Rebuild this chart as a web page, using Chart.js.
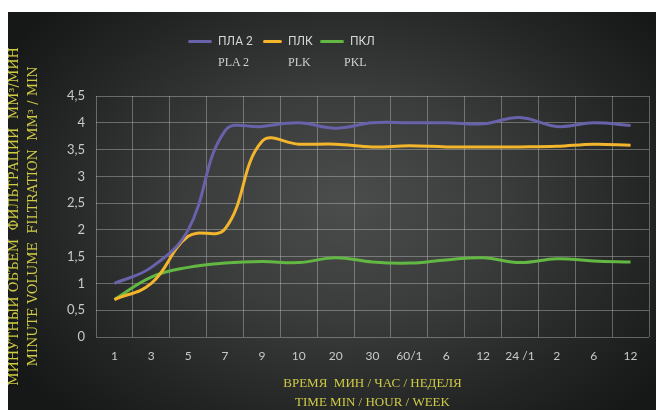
<!DOCTYPE html>
<html>
<head>
<meta charset="utf-8">
<script src="https://cdn.jsdelivr.net/npm/chart.js@4.4.1/dist/chart.umd.min.js"></script>
<style>
  html, body { margin: 0; padding: 0; background: #fff; }
  #wrap {
    position: absolute; left: 8px; top: 12px; width: 648px; height: 398px;
    background: radial-gradient(ellipse 62% 72% at 52% 48%, #4b4c4c 0%, #3a3b3b 40%, #242626 75%, #161717 100%);
    overflow: hidden;
  }
  #chart { position: absolute; left: 0; top: 0; }
  .lg { position: absolute; font-size: 12px; line-height: 14px; white-space: nowrap; }
  .lg.ru { font-family: Roboto, sans-serif; color: #d6d6d6; }
  .lg.en { font-family: "Liberation Serif", serif; color: #d0d0d0; }
  .sw { position: absolute; height: 3px; border-radius: 2px; }
</style>
</head>
<body>
<div id="wrap">
  <canvas id="chart" width="648" height="398"></canvas>
  <div id="legend"></div>
</div>
<script>
// time points (min / hour / week)
var labels = ['1', '3', '5', '7', '9', '10', '20', '30', '60/1', '6', '12', '24 /1', '2', '6', '12'];

// minute filtration volume, mm3/min
var pla2 = [1.0, 1.3, 2.0, 3.85, 3.93, 4.0, 3.9, 4.0, 4.0, 4.0, 3.98, 4.1, 3.93, 4.0, 3.95];
var plk  = [0.7, 1.0, 1.88, 2.02, 3.65, 3.6, 3.6, 3.55, 3.57, 3.55, 3.55, 3.55, 3.56, 3.6, 3.58];
var pkl  = [0.7, 1.12, 1.3, 1.38, 1.41, 1.39, 1.48, 1.4, 1.38, 1.44, 1.48, 1.39, 1.46, 1.42, 1.4];

var namesRu = ['ПЛА 2', 'ПЛК', 'ПКЛ'];
var namesEn = ['PLA 2', 'PLK', 'PKL'];
var colors = ['#6762aa', '#f2b52c', '#62b842'];

var yTitle = ['МИНУТНЫЙ ОБЪЁМ  ФИЛЬТРАЦИИ  ММ³/МИН', 'MINUTE VOLUME  FILTRATION  MM³ / MIN'];
var xTitle = ['ВРЕМЯ  МИН / ЧАС / НЕДЕЛЯ', 'TIME MIN / HOUR / WEEK'];

var titleColor = '#cfcb45';
var tickColor = '#c9c9c9';
var gridColor = 'rgba(210, 210, 210, 0.38)';

// legend, two rows: russian name and latin name under it
var legendPos = [
    { sw: 180, swW: 24, tx: 210 },
    { sw: 255, swW: 19, tx: 280 },
    { sw: 312, swW: 24, tx: 342 }
];
var legend = document.getElementById('legend');
namesRu.forEach(function (n, i) {
    var p = legendPos[i];
    legend.insertAdjacentHTML('beforeend',
        '<div class="sw" style="left:' + p.sw + 'px;top:28px;width:' + p.swW + 'px;background:' + colors[i] + '"></div>' +
        '<div class="lg ru" style="left:' + p.tx + 'px;top:22px">' + n + '</div>' +
        '<div class="lg en" style="left:' + (p.tx + (i === 2 ? -6 : 0)) + 'px;top:43px">' + namesEn[i] + '</div>');
});

var ctx = document.getElementById('chart').getContext('2d');
var chart = new Chart(ctx, {
    type: 'line',
    data: {
        labels: labels,
        datasets: [
            { label: namesRu[0], data: pla2, borderColor: colors[0] },
            { label: namesRu[1], data: plk, borderColor: colors[1] },
            { label: namesRu[2], data: pkl, borderColor: colors[2] }
        ]
    },
    options: {
        responsive: false,
        animation: false,
        devicePixelRatio: 1,
        layout: { padding: { top: 84, right: 7 } },
        elements: {
            point: { radius: 0 },
            line: { tension: 0.4, borderWidth: 3, fill: false }
        },
        plugins: {
            legend: { display: false },
            tooltip: { enabled: false }
        },
        scales: {
            x: {
                offset: true,
                grid: { color: gridColor, offset: true, drawTicks: false },
                border: { display: false },
                ticks: {
                    color: tickColor, padding: 12, maxRotation: 0, minRotation: 0, autoSkip: false,
                    font: { family: 'Lato', size: 12 }
                },
                title: {
                    display: true, text: xTitle, color: titleColor,
                    font: { family: 'Liberation Serif', size: 13, lineHeight: 1.45 },
                    padding: { top: 0, bottom: -2 }
                },
                afterFit: function (s) { s.height = 73; }
            },
            y: {
                min: 0,
                max: 4.5,
                grid: { color: gridColor, drawTicks: false },
                border: { display: false },
                ticks: {
                    stepSize: 0.5, color: tickColor, padding: 11,
                    font: { family: 'Lato', size: 13 },
                    callback: function (v) { return String(v).replace('.', ','); }
                },
                title: {
                    display: true, text: yTitle, color: titleColor,
                    font: { family: 'DejaVu Serif', size: 13, lineHeight: 1.4 },
                    padding: { top: -2, bottom: 0 }
                },
                afterFit: function (s) { s.width = 88; }
            }
        }
    }
});
</script>
</body>
</html>
